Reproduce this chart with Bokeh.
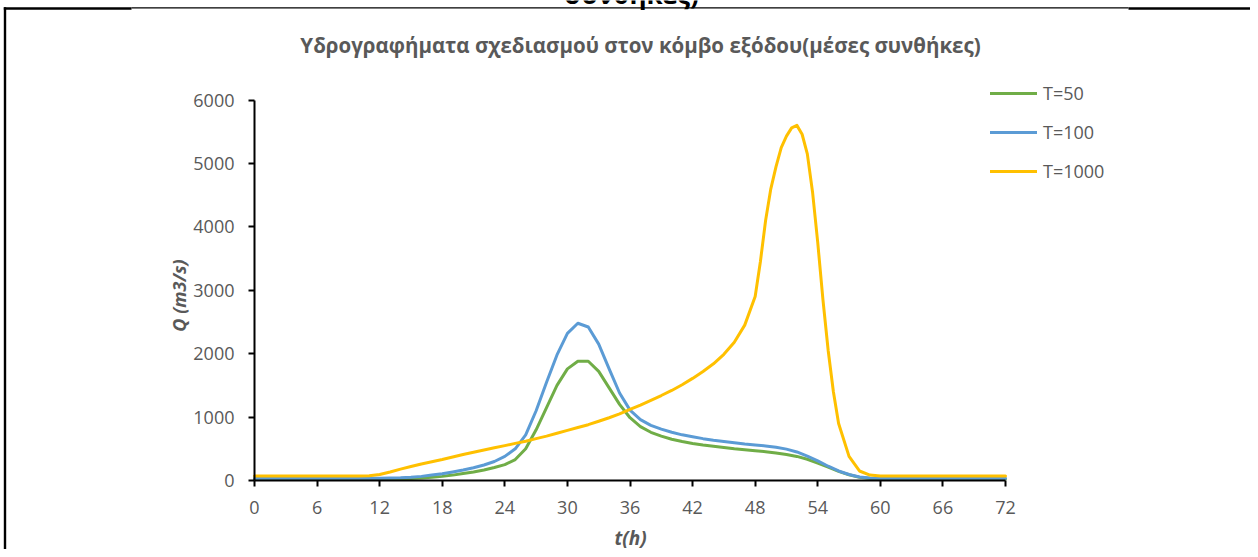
import math
from bokeh.plotting import figure
from bokeh.models import Range1d, Label, Legend, LegendItem, BoxAnnotation, FixedTicker
from bokeh.embed import file_html
from bokeh.resources import INLINE

# ---------------- data ----------------
hours = list(range(73))

q_t50 = [20, 20, 20, 20, 20, 20, 20, 20, 20, 20, 20, 20, 20,
         22, 25, 30, 40, 50, 65, 85, 110, 135, 165, 205, 250,
         330, 500, 800, 1150, 1500, 1760, 1880, 1880, 1720, 1460, 1200, 990,
         850, 760, 700, 650, 615, 585, 560, 540, 520, 500, 485, 470,
         455, 435, 410, 380, 335, 275, 210, 145, 90, 50, 30, 22,
         22, 22, 22, 22, 22, 22, 22, 22, 22, 22, 22, 22]

q_t100 = [35, 35, 35, 35, 35, 35, 35, 35, 35, 35, 35, 35, 35,
          38, 42, 50, 65, 85, 105, 135, 165, 200, 245, 300, 380,
          500, 720, 1100, 1550, 1980, 2320, 2480, 2420, 2150, 1760, 1380, 1110,
          960, 870, 810, 760, 720, 690, 660, 635, 615, 595, 575, 560,
          545, 525, 495, 450, 385, 310, 225, 150, 95, 55, 40, 35,
          35, 35, 35, 35, 35, 35, 35, 35, 35, 35, 35, 35]

# T=1000 read every hour, and every half hour around its sharp peak
hours_t1000 = (list(range(0, 48)) +
               [48, 48.5, 49, 49.5, 50, 50.5, 51, 51.5, 52, 52.5, 53, 53.5,
                54, 54.5, 55, 55.5, 56] +
               list(range(57, 73)))
q_t1000 = [70, 70, 70, 70, 70, 70, 70, 70, 70, 70, 70, 75, 95,
           135, 180, 220, 260, 295, 330, 370, 410, 445, 480, 515, 550,
           585, 620, 660, 700, 745, 790, 835, 880, 935, 990, 1050, 1120,
           1190, 1265, 1340, 1420, 1510, 1610, 1720, 1840, 1990, 2180, 2450,
           2900, 3450, 4100, 4600, 4950, 5250, 5430, 5560, 5600, 5460, 5150, 4550,
           3750, 2850, 2050, 1400, 900,
           380, 150, 85, 72,
           70, 70, 70, 70, 70, 70, 70, 70, 70, 70, 70, 70]

series_names = ["T=50", "T=100", "T=1000"]
series_colors = ["#70AD47", "#5B9BD5", "#FFC000"]
x_ticks = list(range(0, 73, 6))
y_ticks = list(range(0, 6001, 1000))
title_text = "Υδρογραφήματα σχεδιασμού στον κόμβο εξόδου(μέσες συνθήκες)"
top_fragment = "συνθήκες)"
x_label = "t(h)"
y_label = "Q (m3/s)"

# ---------------- layout (pixels) ----------------
W, H = 1250, 549
FL, FR, FT, FB = 254.0, 1005.0, 99.5, 480.0   # where the plot area sits
px_per_h = (FR - FL) / 72.0
px_per_q = (FB - FT) / 6000.0
x0 = -FL / px_per_h
x1 = (W - FL) / px_per_h
y0 = -(H - FB) / px_per_q
y1 = FB / px_per_q

p = figure(width=W, height=H, output_backend="svg", toolbar_location=None,
           x_range=Range1d(x0, x1), y_range=Range1d(y0, y1),
           min_border=0, min_border_left=0, min_border_right=0,
           min_border_top=0, min_border_bottom=0)
p.outline_line_color = None
p.grid.visible = False
p.background_fill_color = "white"
p.border_fill_color = "white"

for ax in (p.xaxis[0], p.yaxis[0]):
    ax.fixed_location = 0
    ax.axis_line_color = "black"
    ax.axis_line_width = 2
    ax.major_tick_line_color = "black"
    ax.major_tick_line_width = 2
    ax.major_tick_in = 0
    ax.major_tick_out = 6
    ax.minor_tick_line_color = None
    ax.major_label_text_font = "Open Sans"
    ax.major_label_text_font_size = "18px"
    ax.major_label_text_color = "#595959"
p.xaxis.ticker = FixedTicker(ticks=x_ticks)
p.yaxis.ticker = FixedTicker(ticks=y_ticks)
p.xaxis.bounds = (0, 72)
p.yaxis.bounds = (0, 6000)
p.yaxis.major_label_standoff = 14
p.xaxis.major_label_standoff = 14

series = [(hours, q_t50), (hours, q_t100), (hours_t1000, q_t1000)]
renderers = []
for (xs, vals), col in zip(series, series_colors):
    r = p.line(xs, vals, line_color=col, line_width=3, line_join="round", line_cap="round")
    renderers.append(r)

legend = Legend(items=[LegendItem(label=n, renderers=[r]) for n, r in zip(series_names, renderers)],
                location=(990, H - 183), orientation="vertical",
                glyph_width=47, glyph_height=24, label_height=24, label_standoff=6,
                spacing=15, padding=0, margin=0, border_line_color=None,
                background_fill_alpha=0, label_text_font="Open Sans",
                label_text_font_size="18px", label_text_color="#595959")
p.add_layout(legend)

def lab(x, y, text, **kw):
    # x, y: canvas pixels from top-left
    p.add_layout(Label(x=x, y=H - y, x_units="screen", y_units="screen", text=text, **kw))

lab(640, 44, title_text, text_align="center", text_baseline="middle", text_font="Open Sans",
    text_font_style="bold", text_font_size="20.5px", text_color="#595959")
lab(178, 295, y_label, angle=math.pi / 2, text_align="center", text_baseline="middle",
    text_font="Open Sans", text_font_style="bold italic", text_font_size="18px", text_color="#595959")
lab(630, 537, x_label, text_align="center", text_baseline="middle",
    text_font="Open Sans", text_font_style="bold italic", text_font_size="19px", text_color="#595959")
lab(631, -7, top_fragment, text_align="center", text_baseline="alphabetic",
    text_font="Open Sans", text_font_style="bold", text_font_size="26px", text_color="black")

def box(l, t, r, b):
    p.add_layout(BoxAnnotation(left=l, right=r, top=H - t, bottom=H - b,
                               left_units="screen", right_units="screen",
                               bottom_units="screen", top_units="screen",
                               fill_color="black", fill_alpha=1, line_color=None, level="overlay"))

# page border lines
box(3.3, 6.7, 5.7, H)
box(3.3, 6.7, 131, 9.3)
box(131, 6.7, 1128, 8.0)
box(1128, 6.7, W, 9.3)

open("out.html", "w").write(file_html(p, INLINE))
